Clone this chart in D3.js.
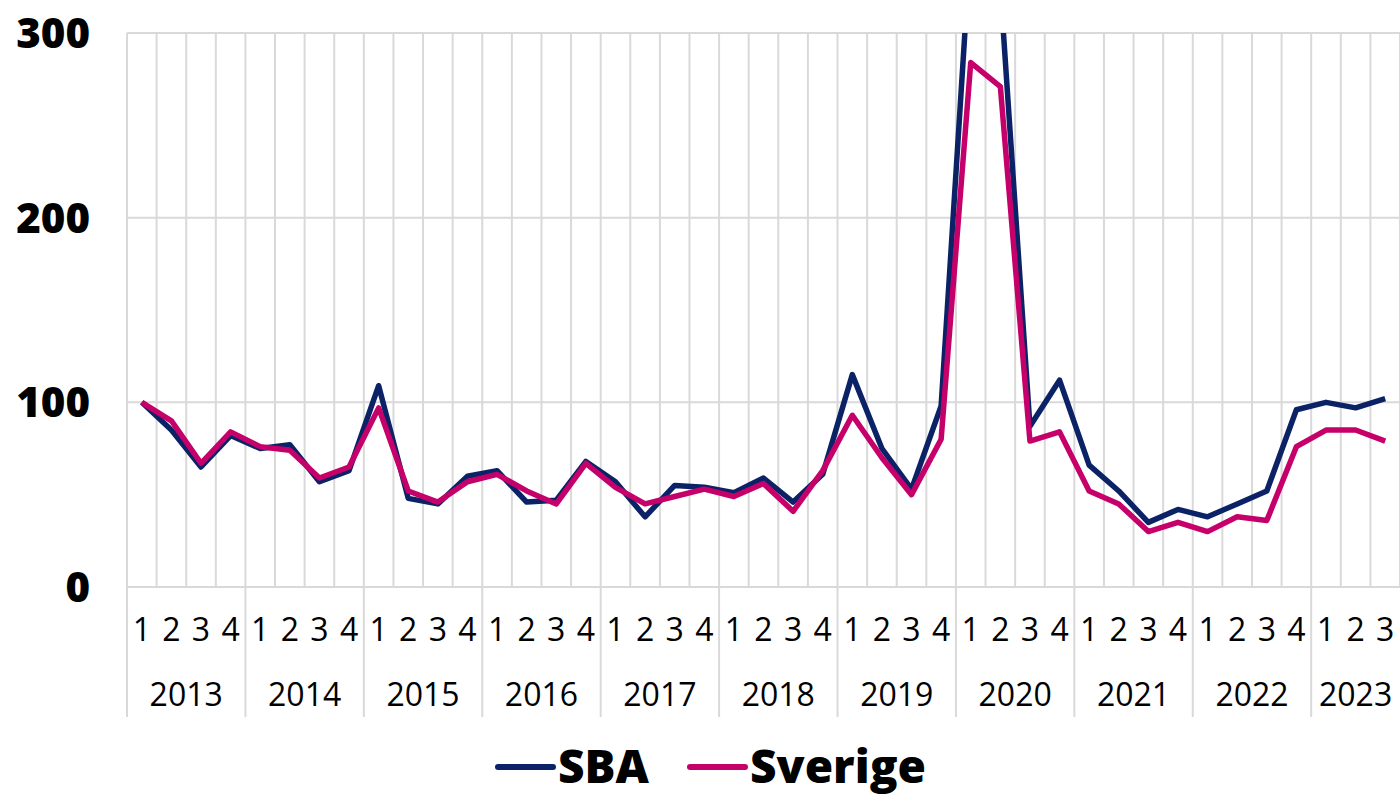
<!DOCTYPE html>
<html>
<head>
<meta charset="utf-8">
<script src="https://cdn.jsdelivr.net/npm/d3@7"></script>
<style>
  body { margin: 0; background: #fff; }
  text { font-family: "Open Sans", sans-serif; }
  .qlab, .ylab { font-size: 32px; fill: #000; }
  .tick-lab { font-size: 42px; font-weight: 800; fill: #000; }
  .leg { font-size: 46px; font-weight: 800; fill: #000; }
</style>
</head>
<body>
<div id="chart"></div>
<script>
// data
var years = ["2013","2014","2015","2016","2017","2018","2019","2020","2021","2022","2023"];
var quarters = ["1","2","3","4"];
var nLast = 3; // 2023 only has 3 quarters
var sba = [100,85,65,82,75,77,57,63,109,48,45,60,63,46,47,68,57,38,55,54,51,59,46,61,
           115,75,53,98,350,325,87,112,66,52,35,42,38,45,52,96,100,97,102];
var sverige = [100,90,67,84,76,74,59,65,97,52,46,57,61,52,45,67,54,45,49,53,49,56,41,63,
               93,70,50,80,284,271,79,84,52,45,30,35,30,38,36,76,85,85,79];
var yTicks = [0,100,200,300];

var svg_w = 1400, svg_h = 795;
var plotL = 127, plotR = 1400, plotT = 33, plotB = 587, axisB = 717;

var cats = [];
years.forEach(function(y, yi) {
  var n = (yi == years.length - 1) ? nLast : quarters.length;
  for (var q = 0; q < n; q++) cats.push(y + "-" + quarters[q]);
});

var svg = d3.select("#chart").append("svg")
  .attr("width", svg_w)
  .attr("height", svg_h);

var xScale = d3.scaleBand().domain(cats).range([plotL, plotR]).padding(0);
var yScale = d3.scaleLinear().domain([0, 300]).range([plotB, plotT]);
var bw = xScale.bandwidth();

var grid = "#d9d9d9";

// horizontal gridlines
svg.append("g").selectAll("line")
  .data(yTicks).enter().append("line")
  .attr("x1", plotL).attr("x2", plotR)
  .attr("y1", function(d) { return yScale(d); })
  .attr("y2", function(d) { return yScale(d); })
  .attr("stroke", grid).attr("stroke-width", 2);

// vertical gridlines, year boundaries go down through the labels
var bounds = d3.range(cats.length + 1);
svg.append("g").selectAll("line")
  .data(bounds).enter().append("line")
  .attr("x1", function(k) { return plotL + k * bw; })
  .attr("x2", function(k) { return plotL + k * bw; })
  .attr("y1", plotT)
  .attr("y2", function(k) { return (k % 4 == 0) ? axisB : plotB; })
  .attr("stroke", grid).attr("stroke-width", 2);

// y tick labels
svg.append("g").selectAll("text")
  .data(yTicks).enter().append("text")
  .attr("class", "tick-lab")
  .attr("x", 90)
  .attr("y", function(d) { return yScale(d); })
  .attr("dy", "0.36em")
  .attr("text-anchor", "end")
  .text(function(d) { return d; });

// quarter labels
svg.append("g").selectAll("text")
  .data(cats).enter().append("text")
  .attr("class", "qlab")
  .attr("x", function(d) { return xScale(d) + bw / 2; })
  .attr("y", 629)
  .attr("dy", "0.36em")
  .attr("text-anchor", "middle")
  .text(function(d) { return d.split("-")[1]; });

// year labels
svg.append("g").selectAll("text")
  .data(years).enter().append("text")
  .attr("class", "ylab")
  .attr("x", function(y) {
    var qs = cats.filter(function(c) { return c.split("-")[0] == y; });
    return (xScale(qs[0]) + xScale(qs[qs.length - 1]) + bw) / 2;
  })
  .attr("y", 694)
  .attr("dy", "0.36em")
  .attr("text-anchor", "middle")
  .text(function(d) { return d; });

// clip lines to plot area
svg.append("clipPath").attr("id", "plot")
  .append("rect")
  .attr("x", plotL).attr("y", plotT)
  .attr("width", plotR - plotL).attr("height", plotB - plotT + 10);

var line = d3.line()
  .x(function(d, i) { return xScale(cats[i]) + bw / 2; })
  .y(function(d) { return yScale(d); });

var series = [
  {name: "SBA", values: sba, color: "#0b2366"},
  {name: "Sverige", values: sverige, color: "#c6006a"}
];

svg.append("g").attr("clip-path", "url(#plot)")
  .selectAll("path")
  .data(series).enter().append("path")
  .attr("d", function(s) { return line(s.values); })
  .attr("fill", "none")
  .attr("stroke", function(s) { return s.color; })
  .attr("stroke-width", 5.5)
  .attr("stroke-linejoin", "round");

// legend
var legX = [498, 690];
var legend = svg.append("g").selectAll("g")
  .data(series).enter().append("g")
  .attr("transform", function(d, i) { return "translate(" + legX[i] + ",767)"; });

legend.append("line")
  .attr("x1", 0).attr("x2", 55)
  .attr("stroke", function(d) { return d.color; })
  .attr("stroke-width", 6)
  .attr("stroke-linecap", "round");

legend.append("text")
  .attr("class", "leg")
  .attr("x", 60)
  .attr("dy", "0.34em")
  .text(function(d) { return d.name; });
</script>
</body>
</html>
